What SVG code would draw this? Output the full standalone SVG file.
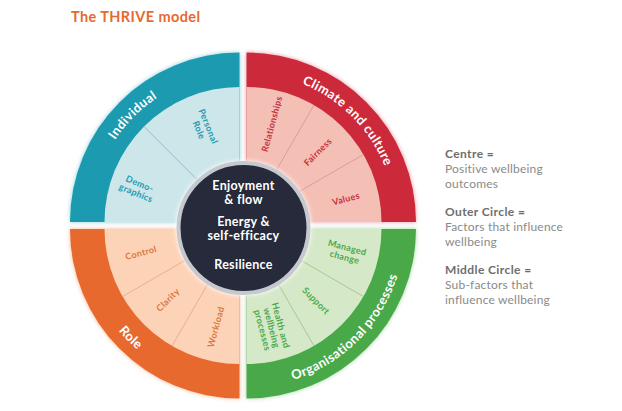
<svg xmlns="http://www.w3.org/2000/svg" width="622" height="411" viewBox="0 0 622 411">
<style>
.title{font-family:Lato,"Open Sans",sans-serif;font-weight:bold;font-size:14.5px;fill:#e8692e;letter-spacing:0.4px}
.band{font-family:Lato,"Open Sans",sans-serif;font-weight:bold;font-size:13px;fill:#fff;letter-spacing:0.4px}
.sub{font-family:Lato,"Open Sans",sans-serif;font-weight:bold;font-size:9px;text-anchor:middle;letter-spacing:0.3px}
.ct{font-family:Lato,"Open Sans",sans-serif;font-weight:bold;font-size:12.5px;fill:#fff;text-anchor:middle;letter-spacing:0.3px}
.lh{font-family:Lato,"Open Sans",sans-serif;font-weight:bold;font-size:12px;fill:#6e6e6e;letter-spacing:0.4px}
.lt{font-family:Lato,"Open Sans",sans-serif;font-size:12px;fill:#8a8a8a;letter-spacing:0.2px}
.t{fill:#1e9ab0}.r{fill:#c53141}.o{fill:#d9783f}.g{fill:#4aa94a}
.div{stroke-width:0.8;fill:none}
</style>
<defs>
<filter id="glow" x="-10%" y="-10%" width="120%" height="120%">
<feGaussianBlur in="SourceGraphic" stdDeviation="2" result="b"/>
<feComponentTransfer in="b" result="b2"><feFuncA type="linear" slope="0.5"/></feComponentTransfer>
<feMerge><feMergeNode in="b2"/><feMergeNode in="SourceGraphic"/></feMerge>
</filter>
<filter id="cglow" x="-20%" y="-20%" width="140%" height="140%">
<feGaussianBlur in="SourceAlpha" stdDeviation="2.5" result="b"/>
<feFlood flood-color="#ffffff"/>
<feComposite in2="b" operator="in" result="w"/>
<feMerge><feMergeNode in="w"/><feMergeNode in="SourceGraphic"/></feMerge>
</filter>
<path id="pInd" d="M 90.5 222 A 149 149 0 0 1 239.5 73"/>
<path id="pCli" d="M 246.5 73 A 149 149 0 0 1 395.5 222"/>
<path id="pRole" d="M 81.5 229 A 158 158 0 0 0 239.5 387"/>
<path id="pOrg" d="M 246.5 387 A 158 158 0 0 0 404.5 229"/>
</defs>
<rect width="622" height="411" fill="#ffffff"/>
<text class="title" x="71" y="22">The THRIVE model</text>

<g id="individual">
<path d="M 239.5 222 L 70 222 A 169.5 169.5 0 0 1 239.5 52.5 Z" fill="#1a9aaf" filter="url(#glow)"/>
<path d="M 239.5 222 L 104.5 222 A 135 135 0 0 1 239.5 87 Z" fill="#cde6ea"/>
<text class="band"><textPath href="#pInd" startOffset="50%" text-anchor="middle">Individual</textPath></text>
<line class="div" x1="197.1" y1="179.6" x2="144" y2="126.5" stroke="#86b3bb"/>
<g transform="translate(204,128) rotate(67.5)"><text class="sub t" y="-1.5">Personal</text><text class="sub t" y="8.5">Role</text></g>
<g transform="translate(138,188) rotate(22.5)"><text class="sub t" y="-1.5">Demo-</text><text class="sub t" y="8.5">graphics</text></g>
</g>

<g id="climate">
<path d="M 246.5 222 L 246.5 52.5 A 169.5 169.5 0 0 1 416 222 Z" fill="#cc2b3b" filter="url(#glow)"/>
<path d="M 246.5 222 L 246.5 87 A 135 135 0 0 1 381.5 222 Z" fill="#f4bfb5"/>
<text class="band"><textPath href="#pCli" startOffset="50%" text-anchor="middle">Climate and culture</textPath></text>
<line class="div" x1="276.5" y1="170" x2="314" y2="105.1" stroke="#d8948f"/>
<line class="div" x1="298.5" y1="192" x2="363.4" y2="154.5" stroke="#d8948f"/>
<text class="sub r" transform="translate(272,124) rotate(-75)" y="3">Relationships</text>
<text class="sub r" transform="translate(318,152) rotate(-45)" y="3">Fairness</text>
<text class="sub r" transform="translate(346,199) rotate(-15)" y="3">Values</text>
</g>

<g id="role">
<path d="M 239.5 229 L 239.5 398.5 A 169.5 169.5 0 0 1 70 229 Z" fill="#e8692e" filter="url(#glow)"/>
<path d="M 239.5 229 L 239.5 364 A 135 135 0 0 1 104.5 229 Z" fill="#fdd3b8"/>
<text class="band"><textPath href="#pRole" startOffset="50%" text-anchor="middle">Role</textPath></text>
<line class="div" x1="209.5" y1="281" x2="172" y2="345.9" stroke="#e0a784"/>
<line class="div" x1="187.5" y1="259" x2="122.6" y2="296.5" stroke="#e0a784"/>
<text class="sub o" transform="translate(141,253) rotate(-15)" y="3">Control</text>
<text class="sub o" transform="translate(168,300) rotate(-45)" y="3">Clarity</text>
<text class="sub o" transform="translate(216,327) rotate(-75)" y="3">Workload</text>
</g>

<g id="organisational">
<path d="M 246.5 229 L 416 229 A 169.5 169.5 0 0 1 246.5 398.5 Z" fill="#4aa94a" filter="url(#glow)"/>
<path d="M 246.5 229 L 381.5 229 A 135 135 0 0 1 246.5 364 Z" fill="#d5e8c8"/>
<text class="band"><textPath href="#pOrg" startOffset="50%" text-anchor="middle">Organisational processes</textPath></text>
<line class="div" x1="276.5" y1="281" x2="314" y2="345.9" stroke="#9bc08c"/>
<line class="div" x1="298.5" y1="259" x2="363.4" y2="296.5" stroke="#9bc08c"/>
<g transform="translate(346,252) rotate(15)"><text class="sub g" y="-1.5">Managed</text><text class="sub g" y="8.5">change</text></g>
<text class="sub g" transform="translate(316,301) rotate(45)" y="3">Support</text>
<g transform="translate(271,328) rotate(75)"><text class="sub g" y="-7">Health and</text><text class="sub g" y="2.5">wellbeing</text><text class="sub g" y="12">processes</text></g>
</g>

<g id="centre">
<circle cx="243.5" cy="228" r="65" fill="#262c3a" stroke="#c5c8ce" stroke-width="4" filter="url(#cglow)"/>
<text class="ct" x="243.5" y="189.5">Enjoyment</text>
<text class="ct" x="243.5" y="204">&amp; flow</text>
<text class="ct" x="243.5" y="226">Energy &amp;</text>
<text class="ct" x="243.5" y="240">self-efficacy</text>
<text class="ct" x="243.5" y="269">Resilience</text>
</g>

<g id="legend">
<text class="lh" x="445" y="158">Centre =</text>
<text class="lt" x="445" y="173">Positive wellbeing</text>
<text class="lt" x="445" y="188">outcomes</text>
<text class="lh" x="445" y="216">Outer Circle =</text>
<text class="lt" x="445" y="231">Factors that influence</text>
<text class="lt" x="445" y="246">wellbeing</text>
<text class="lh" x="445" y="274">Middle Circle =</text>
<text class="lt" x="445" y="289">Sub-factors that</text>
<text class="lt" x="445" y="304">influence wellbeing</text>
</g>
</svg>
